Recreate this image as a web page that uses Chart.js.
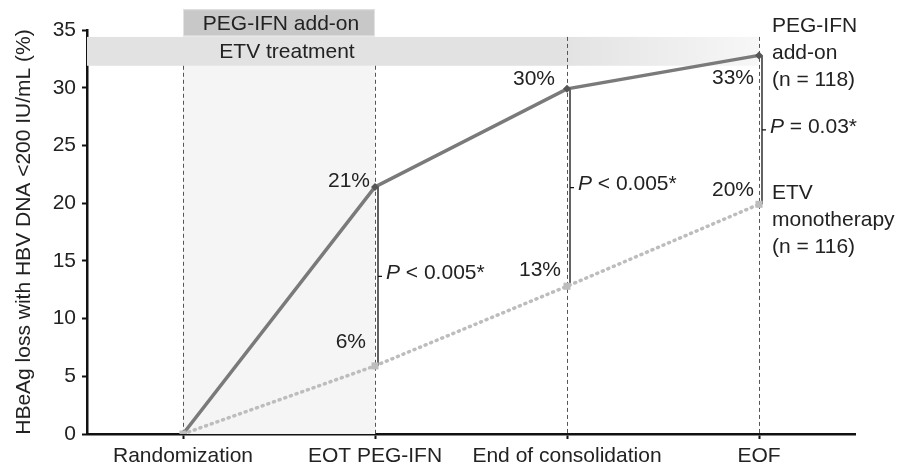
<!DOCTYPE html>
<html>
<head>
<meta charset="utf-8">
<script src="https://cdn.jsdelivr.net/npm/chart.js@4.4.1/dist/chart.umd.min.js"></script>
<style>
html,body{margin:0;padding:0;background:#fff}
#wrap{width:909px;height:470px}
</style>
</head>
<body>
<div id="wrap"><canvas id="c" width="909" height="470"></canvas></div>
<script>
const categories = ['Randomization','EOT PEG-IFN','End of consolidation','EOF'];
const pegIfn = [0, 21.4, 29.9, 32.8];
const etvMono = [0, 5.9, 12.8, 19.9];
const yTicks = [0,5,10,15,20,25,30,35];
const pLabels = [null, ['P',' < 0.005*'], ['P',' < 0.005*'], ['P',' = 0.03*']];
const pegLegend = ['PEG-IFN','add-on','(n = 118)'];
const etvLegend = ['ETV','monotherapy','(n = 116)'];
const etvBand = [31.9, 34.4];   // ETV treatment band, y range
const pegBox = [34.45, 36.8];   // PEG-IFN add-on box, y range

const FONT = '"Liberation Sans", Arial, Helvetica, sans-serif';
const FS = 21;
const TXT = '#222';

// label offsets (px) relative to point: [dx (right edge), dy]
const pegOff = [null, [-5,-6], [-12,-10], [-5,23]];
const etvOff = [null, [-9,-24], [-6,-16], [-5,-14]];

const overlay = {
  id:'overlay',
  beforeDatasetsDraw(chart){
    const {ctx, scales:{x,y}} = chart;
    const x0 = x.left, xr = x.getPixelForValue(0), xe = x.getPixelForValue(1), xf = x.getPixelForValue(3);
    const bTop = y.getPixelForValue(etvBand[1]), bBot = y.getPixelForValue(etvBand[0]);
    ctx.save();
    // shaded PEG-IFN period
    ctx.fillStyle = '#f5f5f5';
    ctx.fillRect(xr, bBot, xe-xr, y.getPixelForValue(0)-bBot);
    // ETV band with fade
    const g = ctx.createLinearGradient(x0,0,xf,0);
    g.addColorStop(0,'#e2e2e2'); g.addColorStop(0.7,'#e2e2e2'); g.addColorStop(1,'#f7f7f7');
    ctx.fillStyle = g;
    ctx.fillRect(x0, bTop, xf-x0, bBot-bTop);
    // PEG-IFN box
    const pT = y.getPixelForValue(pegBox[1]), pB = y.getPixelForValue(pegBox[0]);
    ctx.fillStyle = '#c8c8c8';
    ctx.fillRect(xr, pT, xe-xr, pB-pT);
    ctx.strokeStyle = '#e2e2e2'; ctx.lineWidth = 1;
    ctx.strokeRect(xr+0.5, pT+0.5, xe-xr-1, pB-pT-1);
    ctx.fillStyle = TXT; ctx.font = FS+'px '+FONT; ctx.textBaseline = 'middle';
    ctx.textAlign = 'center';
    ctx.fillText('PEG-IFN add-on', (xr+xe)/2+2, (pT+pB)/2+1);
    ctx.fillText('ETV treatment', (xr+xe)/2+8, (bTop+bBot)/2+1);
    // dashed verticals
    ctx.strokeStyle = '#555'; ctx.lineWidth = 1; ctx.setLineDash([4,3]);
    categories.forEach((c,i)=>{
      const px = Math.round(x.getPixelForValue(i))+0.5;
      const top = i < 2 ? bBot : bTop;
      ctx.beginPath(); ctx.moveTo(px, top); ctx.lineTo(px, y.getPixelForValue(0)); ctx.stroke();
    });
    ctx.setLineDash([]);
    // P-value brackets
    ctx.strokeStyle = '#111'; ctx.lineWidth = 1.3;
    pLabels.forEach((p,i)=>{
      if(!p) return;
      const px = x.getPixelForValue(i)+3;
      const a = y.getPixelForValue(pegIfn[i]), b = y.getPixelForValue(etvMono[i]);
      const m = (a+b)/2;
      ctx.beginPath(); ctx.moveTo(px,a); ctx.lineTo(px,b); ctx.moveTo(px,m); ctx.lineTo(px+4,m); ctx.stroke();
    });
    ctx.restore();
  },
  afterDatasetsDraw(chart){
    const {ctx, scales:{x,y}} = chart;
    ctx.save();
    ctx.fillStyle = TXT; ctx.textBaseline = 'middle';
    ctx.font = FS+'px '+FONT;
    ctx.textAlign = 'right';
    pegIfn.forEach((v,i)=>{
      if(!pegOff[i]) return;
      ctx.fillText(Math.round(v)+'%', x.getPixelForValue(i)+pegOff[i][0], y.getPixelForValue(v)+pegOff[i][1]);
    });
    etvMono.forEach((v,i)=>{
      if(!etvOff[i]) return;
      ctx.fillText(Math.round(v)+'%', x.getPixelForValue(i)+etvOff[i][0], y.getPixelForValue(v)+etvOff[i][1]);
    });
    // P values
    ctx.textAlign = 'left';
    pLabels.forEach((p,i)=>{
      if(!p) return;
      const px = x.getPixelForValue(i)+11;
      const m = (y.getPixelForValue(pegIfn[i])+y.getPixelForValue(etvMono[i]))/2 - 3;
      ctx.font = 'italic '+FS+'px '+FONT;
      ctx.fillText(p[0], px, m);
      const w = ctx.measureText(p[0]).width;
      ctx.font = FS+'px '+FONT;
      ctx.fillText(p[1], px+w, m);
    });
    // series names
    const lx = x.getPixelForValue(3)+13;
    pegLegend.forEach((t,k)=>ctx.fillText(t, lx, 26+27*k));
    etvLegend.forEach((t,k)=>ctx.fillText(t, lx, 193+27*k));
    ctx.restore();
  }
};

new Chart(document.getElementById('c'), {
  type:'line',
  data:{
    labels:categories,
    datasets:[
      {label:'ETV monotherapy', data:etvMono, borderColor:'#bdbdbd', borderWidth:3.5, borderDash:[1,5], borderCapStyle:'round',
       pointStyle:'rect', pointRadius:5, pointBackgroundColor:'#bdbdbd', pointBorderColor:'#bdbdbd', pointBorderWidth:0, tension:0},
      {label:'PEG-IFN add-on', data:pegIfn, borderColor:'#7a7a7a', borderWidth:3.5,
       pointStyle:'rectRot', pointRadius:4, pointBackgroundColor:'#555', pointBorderColor:'#555', pointBorderWidth:0, tension:0}
    ]
  },
  options:{
    responsive:false, animation:false,
    layout:{padding:{top:30,right:54,left:0,bottom:0}},
    plugins:{legend:{display:false}, tooltip:{enabled:false}},
    scales:{
      x:{type:'category', offset:true,
        grid:{display:true, drawOnChartArea:false, drawTicks:true, tickLength:5, tickColor:'#111', tickWidth:2, offset:false},
        border:{display:true, color:'#111', width:2.5},
        ticks:{color:TXT, font:{family:FONT,size:FS}, padding:5, maxRotation:0, autoSkip:false},
        afterFit(s){s.height = 36;}
      },
      y:{min:0, max:35,
        afterBuildTicks(s){s.ticks = yTicks.map(v=>({value:v}));},
        grid:{display:true, drawOnChartArea:false, drawTicks:true, tickLength:5, tickColor:'#111', tickWidth:2},
        border:{display:true, color:'#111', width:2.5},
        ticks:{color:TXT, font:{family:FONT,size:FS}, padding:6},
        title:{display:true, text:'HBeAg loss with HBV DNA <200 IU/mL (%)', color:TXT, font:{family:FONT,size:FS}, padding:{top:12,bottom:0}},
        afterFit(s){s.width = 87;}
      }
    }
  },
  plugins:[overlay]
});
</script>
</body>
</html>
